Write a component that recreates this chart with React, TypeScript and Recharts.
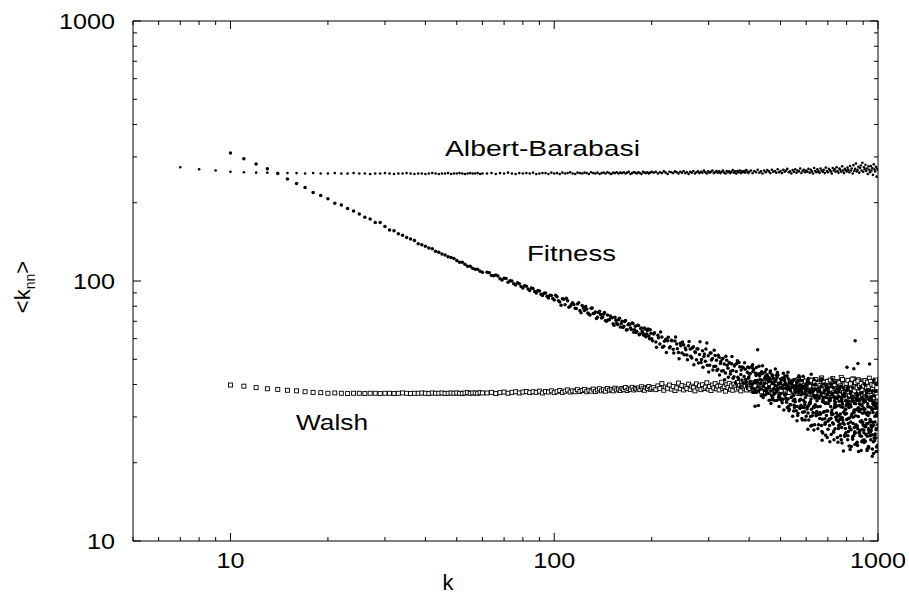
import React from 'react';
import { ScatterChart, Scatter, XAxis, YAxis, ReferenceLine } from 'recharts';

const W = 909;
const H = 599;
const PLOT_LEFT = 133;
const PLOT_TOP = 21;
const PLOT_RIGHT = 878;
const PLOT_BOTTOM = 541;
const FONT = "'Liberation Sans', Arial, Helvetica, sans-serif";

// ---- ticks ----
const xTicks = [5, 6, 7, 8, 9, 10, 20, 30, 40, 50, 60, 70, 80, 90, 100, 200, 300, 400, 500, 600, 700, 800, 900, 1000];
const yTicks = [10, 20, 30, 40, 50, 60, 70, 80, 90, 100, 200, 300, 400, 500, 600, 700, 800, 900, 1000];
const majorTicks = [10, 100, 1000];
const tickLabels: Record<number, string> = { 10: '10', 100: '100', 1000: '1000' };

// ---- degree grids (k) ----
const kLowAB = [7, 8, 9, 10, 11, 12, 13, 14, 15, 16, 17, 18, 19, 20, 21, 22, 23, 24, 25, 26, 27, 28, 29, 30, 31, 32, 33, 34, 35, 36, 37, 38, 39, 40, 41, 42, 43, 44, 45, 46, 47, 48, 49, 50, 51, 52, 53, 54, 55, 56, 57, 58, 59, 60];
const kLow = [10, 11, 12, 13, 14, 15, 16, 17, 18, 19, 20, 21, 22, 23, 24, 25, 26, 27, 28, 29, 30, 31, 32, 33, 34, 35, 36, 37, 38, 39, 40, 41, 42, 43, 44, 45, 46, 47, 48, 49, 50, 51, 52, 53, 54, 55, 56, 57, 58, 59, 60];
const kMid = [62, 64, 66, 68, 70, 72, 74, 76, 78, 80, 82, 84, 86, 88, 90, 92, 94, 96, 98, 100, 102, 104, 106, 108, 110, 112, 114, 116, 118, 120, 122, 124, 126, 128, 130, 132, 134, 136, 138, 140, 142, 144, 146, 148, 150, 152, 154, 156, 158, 160, 162, 164, 166, 168, 170, 172, 174, 176, 178, 180, 182, 184, 186, 188, 190, 192, 194, 196, 198, 200];
const kMidB = [63, 65, 67, 69, 71, 73, 75, 77, 79, 81, 83, 85, 87, 89, 91, 93, 95, 97, 99, 101, 103, 105, 107, 109, 111, 113, 115, 117, 119, 121, 123, 125, 127, 129, 131, 133, 135, 137, 139, 141, 143, 145, 147, 149, 151, 153, 155, 157, 159, 161, 163, 165, 167, 169, 171, 173, 175, 177, 179, 181, 183, 185, 187, 189, 191, 193, 195, 197, 199];
const kHigh = [203, 206, 209, 212, 215, 218, 221, 224, 227, 230, 233, 236, 239, 242, 245, 248, 251, 254, 257, 260, 263, 266, 269, 272, 275, 278, 281, 284, 287, 290, 293, 296, 299, 302, 305, 308, 311, 314, 317, 320, 323, 326, 329, 332, 335, 338, 341, 344, 347, 350, 353, 356, 359, 362, 365, 368, 371, 374, 377, 380, 383, 386, 389, 392, 395, 398];
const kHighB = [201, 204, 207, 210, 213, 216, 219, 222, 225, 228, 231, 234, 237, 240, 243, 246, 249, 252, 255, 258, 261, 264, 267, 270, 273, 276, 279, 282, 285, 288, 291, 294, 297, 300, 303, 306, 309, 312, 315, 318, 321, 324, 327, 330, 333, 336, 339, 342, 345, 348, 351, 354, 357, 360, 363, 366, 369, 372, 375, 378, 381, 384, 387, 390, 393, 396, 399];
const kTop = [400, 405, 410, 415, 420, 425, 430, 435, 440, 445, 450, 455, 460, 465, 470, 475, 480, 485, 490, 495, 500, 505, 510, 515, 520, 525, 530, 535, 540, 545, 550, 555, 560, 565, 570, 575, 580, 585, 590, 595, 600, 605, 610, 615, 620, 625, 630, 635, 640, 645, 650, 655, 660, 665, 670, 675, 680, 685, 690, 695, 700, 705, 710, 715, 720, 725, 730, 735, 740, 745, 750, 755, 760, 765, 770, 775, 780, 785, 790, 795, 800, 805, 810, 815, 820, 825, 830, 835, 840, 845, 850, 855, 860, 865, 870, 875, 880, 885, 890, 895, 900, 905, 910, 915, 920, 925, 930, 935, 940, 945, 950, 955, 960, 965, 970, 975, 980, 985, 990, 995, 1000];
const kTopB = [402, 407, 412, 417, 422, 427, 432, 437, 442, 447, 452, 457, 462, 467, 472, 477, 482, 487, 492, 497, 502, 507, 512, 517, 522, 527, 532, 537, 542, 547, 552, 557, 562, 567, 572, 577, 582, 587, 592, 597, 602, 607, 612, 617, 622, 627, 632, 637, 642, 647, 652, 657, 662, 667, 672, 677, 682, 687, 692, 697, 702, 707, 712, 717, 722, 727, 732, 737, 742, 747, 752, 757, 762, 767, 772, 777, 782, 787, 792, 797, 802, 807, 812, 817, 822, 827, 832, 837, 842, 847, 852, 857, 862, 867, 872, 877, 882, 887, 892, 897, 902, 907, 912, 917, 922, 927, 932, 937, 942, 947, 952, 957, 962, 967, 972, 977, 982, 987, 992, 997];
const kTopC = [401, 406, 411, 416, 421, 426, 431, 436, 441, 446, 451, 456, 461, 466, 471, 476, 481, 486, 491, 496, 501, 506, 511, 516, 521, 526, 531, 536, 541, 546, 551, 556, 561, 566, 571, 576, 581, 586, 591, 596, 601, 606, 611, 616, 621, 626, 631, 636, 641, 646, 651, 656, 661, 666, 671, 676, 681, 686, 691, 696, 701, 706, 711, 716, 721, 726, 731, 736, 741, 746, 751, 756, 761, 766, 771, 776, 781, 786, 791, 796, 801, 806, 811, 816, 821, 826, 831, 836, 841, 846, 851, 856, 861, 866, 871, 876, 881, 886, 891, 896, 901, 906, 911, 916, 921, 926, 931, 936, 941, 946, 951, 956, 961, 966, 971, 976, 981, 986, 991, 996];
const kTopD = [404, 409, 414, 419, 424, 429, 434, 439, 444, 449, 454, 459, 464, 469, 474, 479, 484, 489, 494, 499, 504, 509, 514, 519, 524, 529, 534, 539, 544, 549, 554, 559, 564, 569, 574, 579, 584, 589, 594, 599, 604, 609, 614, 619, 624, 629, 634, 639, 644, 649, 654, 659, 664, 669, 674, 679, 684, 689, 694, 699, 704, 709, 714, 719, 724, 729, 734, 739, 744, 749, 754, 759, 764, 769, 774, 779, 784, 789, 794, 799, 804, 809, 814, 819, 824, 829, 834, 839, 844, 849, 854, 859, 864, 869, 874, 879, 884, 889, 894, 899, 904, 909, 914, 919, 924, 929, 934, 939, 944, 949, 954, 959, 964, 969, 974, 979, 984, 989, 994, 999];
const kTopE = [403, 408, 413, 418, 423, 428, 433, 438, 443, 448, 453, 458, 463, 468, 473, 478, 483, 488, 493, 498, 503, 508, 513, 518, 523, 528, 533, 538, 543, 548, 553, 558, 563, 568, 573, 578, 583, 588, 593, 598, 603, 608, 613, 618, 623, 628, 633, 638, 643, 648, 653, 658, 663, 668, 673, 678, 683, 688, 693, 698, 703, 708, 713, 718, 723, 728, 733, 738, 743, 748, 753, 758, 763, 768, 773, 778, 783, 788, 793, 798, 803, 808, 813, 818, 823, 828, 833, 838, 843, 848, 853, 858, 863, 868, 873, 878, 883, 888, 893, 898, 903, 908, 913, 918, 923, 928, 933, 938, 943, 948, 953, 958, 963, 968, 973, 978, 983, 988, 993, 998];

// ---- Albert-Barabasi <k_nn> ----
const abLow = [274, 269, 266, 263, 262, 261, 261, 260, 260, 260,
  259, 260, 259, 259, 260, 259, 259, 260, 259, 259,
  258, 259, 259, 260, 259, 258, 259, 259, 260, 259,
  258, 259, 259, 258, 259, 260, 259, 258, 259, 259,
  260, 258, 259, 259, 260, 259, 258, 259, 260, 259,
  259, 260, 258, 259];
const abMid = [259, 260, 258, 260, 259, 261, 259, 258, 260, 259,
  260, 259, 261, 258, 259, 260, 260, 258, 261, 259,
  260, 258, 261, 259, 260, 262, 259, 258, 261, 260,
  259, 261, 260, 258, 262, 260, 259, 261, 258, 260,
  261, 259, 262, 260, 258, 261, 260, 262, 259, 261,
  260, 262, 259, 261, 263, 258, 260, 262, 261, 259,
  262, 260, 258, 263, 261, 260, 262, 259, 261, 263];
const abHigh = [261, 263, 259, 262, 260, 264, 261, 258, 263, 262,
  260, 264, 262, 259, 263, 261, 265, 260, 262, 258,
  263, 261, 265, 259, 262, 264, 260, 263, 261, 266,
  262, 259, 264, 261, 263, 266, 260, 262, 265, 261,
  264, 260, 263, 266, 261, 259, 265, 262, 264, 260,
  263, 267, 261, 264, 259, 265, 262, 266, 260, 264,
  262, 265, 261, 267, 263, 260];
const abTop = [263, 266, 260, 265, 262, 268, 261, 264, 259, 266,
  262, 267, 264, 260, 268, 263, 265, 261, 269, 262,
  265, 260, 268, 263, 266, 270, 262, 264, 259, 267,
  263, 269, 261, 266, 264, 271, 260, 265, 268, 262,
  266, 263, 270, 261, 268, 264, 259, 272, 265, 262,
  269, 264, 261, 271, 266, 263, 268, 260, 273, 265,
  262, 270, 267, 264, 259, 272, 266, 269, 263, 274,
  265, 261, 271, 268, 263, 276, 266, 260, 270, 267,
  264, 273, 268, 262, 277, 266, 271, 259, 279, 265,
  270, 283, 264, 268, 275, 261, 272, 278, 266, 285,
  263, 274, 269, 280, 265, 271, 258, 276, 268, 262,
  277, 266, 272, 256, 281, 269, 264, 275, 252, 270,
  268];

// ---- Fitness <k_nn> ----
const fitLow = [311, 295, 282, 270, 259, 247, 237, 229, 219, 213,
  207, 199, 196, 190, 186, 181, 176, 173, 168, 168,
  162, 157, 156, 152, 150, 147, 145, 143, 139, 138,
  136, 134, 133, 130, 129, 127, 126, 124, 123, 122,
  120, 118, 118, 116, 114, 114, 112, 111, 111, 109,
  108];
const fitMid = [108, 105, 105.5, 102, 102.5, 99, 100, 96.5, 97.5, 94,
  95.5, 92, 93.5, 90, 91.5, 88, 90, 86, 88, 84.5,
  87, 83, 85.5, 81, 84, 80, 82.5, 78.5, 81.5, 77,
  80.5, 77, 78, 74.5, 78.5, 75, 76, 72.5, 76.5, 72,
  74.5, 70.5, 74, 71, 72.5, 68.5, 72.5, 69, 71, 66.5,
  70, 67, 70.5, 65, 68.5, 66, 69, 63.5, 67, 64,
  67.5, 62.5, 66, 63, 66, 61, 64.5, 61.5, 65, 60];
const fitMidB = [107.5, 104.8, 104.6, 101.0, 102.2, 100.3, 97.6, 98.4, 95.2, 95.9,
  93.1, 94.0, 91.2, 91.9, 89.0, 89.8, 87.4, 88.2, 85.6, 88.2,
  84.0, 80.6, 85.0, 85.9, 79.3, 81.2, 81.3, 78.3, 82.4, 75.5,
  78.8, 79.7, 75.3, 74.0, 78.7, 75.2, 71.7, 75.7, 74.4, 72.5,
  75.6, 70.0, 71.0, 73.4, 72.2, 67.6, 70.7, 68.1, 71.9, 68.7,
  66.3, 69.9, 64.8, 67.9, 68.1, 65.1, 68.7, 65.0, 63.4, 67.6,
  62.1, 65.7, 64.1, 61.8, 65.3, 62.5, 65.3, 60.0, 62.9];
const fitHigh = [62.5, 58.3, 61.8, 57.2, 60.9, 56.1, 59.7, 58.9, 55.4, 59.2,
  54.6, 58.8, 57.3, 53.1, 57.6, 52.8, 56.9, 55.2, 51.9, 56.4,
  54.8, 50.6, 55.9, 53.5, 49.8, 54.7, 52.1, 48.6, 53.9, 51.2,
  49.1, 57.8, 51.6, 47.4, 52.8, 50.3, 46.9, 51.7, 49.6, 45.8,
  50.9, 48.2, 45.1, 50.4, 47.9, 44.3, 49.6, 46.2, 48.5, 43.9,
  48.1, 45.3, 42.8, 47.6, 44.9, 49.3, 42.1, 46.8, 43.7, 41.6,
  46.5, 42.9, 45.8, 40.8, 44.6, 42.3];
const fitHighB = [58.9, 63.2, 55.6, 60.5, 63.6, 55.6, 58.7, 53.1, 60.7, 55.9,
  58.9, 52.8, 60.9, 54.9, 50.2, 56.4, 58.3, 52.0, 54.4, 49.8,
  58.5, 51.3, 55.2, 47.6, 53.1, 54.9, 48.4, 58.4, 49.9, 46.6,
  52.4, 54.7, 47.4, 44.7, 52.9, 49.7, 45.5, 54.1, 47.0, 45.3,
  51.8, 43.5, 49.0, 50.1, 45.2, 41.7, 51.4, 47.4, 42.6, 48.4,
  45.0, 51.2, 42.3, 47.1, 40.6, 48.2, 42.6, 48.6, 39.1, 45.5,
  46.7, 40.4, 48.5, 41.8, 39.5, 46.7, 42.7];
const fitTop = [46.4, 40.6, 47.6, 38.4, 43.3, 54.4, 44.0, 40.4, 47.2, 37.9,
  36.5, 41.9, 38.9, 45.1, 34.9, 42.3, 36.9, 43.4, 38.5, 32.9,
  42.0, 35.2, 44.2, 36.4, 38.5, 32.6, 41.9, 33.5, 38.9, 30.2,
  41.8, 34.3, 37.4, 30.4, 43.2, 32.7, 38.2, 31.3, 38.9, 34.2,
  30.2, 41.3, 33.1, 37.5, 27.7, 38.5, 31.2, 41.7, 33.4, 35.6,
  35.8, 28.0, 38.0, 30.8, 41.8, 26.0, 34.2, 29.5, 38.3, 31.6,
  28.9, 38.9, 24.1, 35.5, 30.6, 36.9, 26.5, 33.5, 40.9, 29.2,
  35.5, 27.1, 38.6, 30.8, 24.5, 34.2, 28.5, 36.7, 25.6, 32.1,
  29.3, 38.9, 26.4, 34.4, 22.5, 32.8, 35.8, 24.6, 31.3, 27.3,
  58.9, 28.0, 36.3, 23.3, 32.5, 34.6, 25.4, 39.0, 29.0, 24.3,
  34.0, 26.1, 40.0, 27.8, 36.2, 22.3, 31.3, 26.7, 34.8, 29.3,
  24.5, 32.5, 21.2, 33.9, 27.9, 36.1, 25.8, 30.4, 23.0, 32.5,
  31.0];
const fitTopB = [40.3, 46.9, 37.3, 33.0, 37.3, 33.2, 40.2, 44.8, 35.6, 42.3,
  45.7, 37.0, 42.0, 33.8, 43.2, 38.6, 45.9, 34.7, 40.0, 35.9,
  36.9, 42.4, 31.9, 40.4, 34.2, 44.6, 32.1, 37.8, 41.3, 34.6,
  32.6, 38.6, 29.0, 41.5, 34.6, 39.0, 29.6, 43.0, 32.6, 35.6,
  38.3, 26.9, 40.4, 33.7, 43.8, 30.3, 36.0, 28.0, 38.4, 31.5,
  27.0, 37.7, 31.2, 39.5, 24.4, 34.6, 40.2, 28.5, 35.6, 25.0,
  37.7, 29.4, 34.6, 25.7, 41.9, 30.8, 35.9, 27.0, 32.8, 38.5,
  24.0, 36.0, 29.3, 39.4, 27.3, 33.6, 22.2, 37.0, 30.7, 34.7,
  46.6, 25.4, 33.6, 27.5, 37.6, 23.1, 34.5, 29.9, 46.0, 26.0,
  27.5, 35.4, 24.0, 48.2, 31.6, 26.0, 37.0, 22.3, 33.2, 28.6,
  32.5, 23.9, 34.5, 27.5, 38.1, 25.3, 30.4, 22.8, 48.0, 26.3,
  35.3, 27.4, 37.8, 24.1, 41.6, 25.5, 33.2, 22.1, 31.0, 40.0];
const fitTopC = [43.8, 38.8, 44.9, 40.8, 46.5, 39.1, 43.1, 36.2, 44.2, 40.3,
  38.4, 43.0, 34.8, 41.0, 43.6, 36.6, 39.6, 37.4, 43.5, 35.1,
  40.7, 34.0, 38.8, 43.1, 35.0, 39.0, 31.7, 40.4, 35.8, 39.4,
  33.3, 37.5, 40.7, 31.0, 38.2, 35.1, 41.4, 32.7, 36.8, 29.2,
  39.7, 32.8, 29.2, 37.1, 35.2, 27.9, 37.7, 32.7, 40.1, 30.5,
  32.8, 38.8, 29.6, 36.2, 26.4, 35.0, 37.2, 28.1, 34.0, 39.2,
  26.9, 34.7, 37.2, 29.6, 31.9, 38.9, 24.5, 35.4, 29.9, 33.1,
  37.4, 27.8, 33.2, 25.4, 34.7, 29.8, 38.7, 28.1, 31.9, 26.1,
  33.7, 24.5, 35.5, 29.7, 36.9, 26.8, 30.8, 38.9, 25.4, 33.8,
  26.0, 32.0, 37.0, 27.0, 22.1, 33.7, 28.8, 35.4, 24.1, 31.0,
  34.7, 24.5, 32.1, 29.3, 37.1, 22.6, 32.8, 27.0, 35.4, 25.4,
  27.8, 34.6, 22.6, 31.2, 33.3, 24.3, 37.6, 26.8, 30.4, 23.3];
const fitTopD = [41.1, 46.4, 38.1, 44.2, 41.0, 47.0, 38.4, 41.5, 36.4, 43.0,
  43.6, 39.0, 44.4, 36.2, 40.4, 34.7, 41.6, 44.5, 36.5, 39.0,
  34.6, 39.7, 41.4, 35.5, 43.2, 32.9, 38.4, 35.6, 41.0, 31.6,
  38.4, 31.7, 39.1, 42.6, 32.3, 36.5, 29.2, 39.4, 33.5, 40.1,
  32.2, 42.2, 33.8, 30.1, 37.6, 39.9, 26.7, 35.5, 30.3, 36.3,
  37.5, 30.7, 41.7, 27.8, 34.4, 31.3, 37.8, 25.5, 38.9, 31.6,
  35.4, 27.8, 32.9, 40.0, 28.5, 26.2, 34.6, 37.4, 31.1, 25.0,
  28.8, 38.0, 30.0, 35.6, 23.8, 32.7, 36.3, 25.3, 34.7, 30.9,
  38.0, 28.3, 23.2, 33.2, 28.7, 36.2, 25.2, 34.5, 31.9, 23.5,
  33.7, 23.7, 34.8, 30.1, 38.4, 26.6, 32.1, 25.3, 37.2, 28.0,
  26.7, 31.2, 24.2, 35.9, 28.3, 33.7, 23.1, 37.8, 28.7, 32.6,
  35.9, 25.6, 32.2, 21.7, 34.2, 28.7, 24.9, 32.7, 22.1, 31.3];
const fitTopE = [44.1, 40.0, 45.7, 41.3, 43.9, 37.9, 41.7, 44.0, 39.3, 44.7,
  37.6, 41.0, 42.4, 37.8, 35.6, 41.0, 38.0, 42.5, 35.7, 40.5,
  38.8, 35.1, 41.8, 36.7, 39.9, 35.2, 38.8, 33.4, 39.9, 36.3,
  35.1, 39.7, 32.9, 37.2, 39.8, 33.3, 37.4, 34.8, 31.4, 37.7,
  36.4, 31.1, 37.6, 34.3, 32.1, 38.5, 32.8, 36.1, 30.9, 34.6,
  30.8, 35.4, 32.9, 36.9, 29.4, 35.6, 31.5, 33.8, 30.4, 36.8,
  33.8, 29.4, 35.5, 31.2, 36.6, 28.2, 32.6, 34.1, 29.9, 35.3,
  30.4, 34.5, 28.1, 32.8, 35.2, 29.2, 31.3, 36.0, 27.1, 33.1,
  34.5, 29.5, 32.6, 27.2, 33.4, 30.3, 34.8, 28.3, 31.3, 26.3,
  30.3, 34.8, 27.7, 32.5, 26.1, 31.5, 33.4, 28.7, 26.8, 35.0,
  32.1, 27.6, 34.4, 25.7, 30.7, 28.3, 33.0, 26.1, 31.1, 29.0,
  26.6, 31.9, 28.6, 33.6, 24.9, 30.2, 32.3, 27.1, 33.9, 28.0];

// ---- Walsh <k_nn> ----
const walshLow = [39.8, 39.4, 38.9, 38.5, 38.3, 38.0, 37.8, 37.5, 37.3, 37.2,
  37.0, 37.1, 37.0, 36.9, 37.0, 37.0, 36.9, 37.0, 37.0, 36.9,
  37.0, 37.0, 36.9, 37.0, 37.1, 37.0, 36.9, 37.0, 37.0, 37.1,
  37.0, 36.9, 37.1, 37.0, 37.0, 37.1, 36.9, 37.0, 37.1, 37.0,
  37.1, 37.0, 36.9, 37.1, 37.2, 37.0, 37.1, 37.1, 37.0, 37.2,
  37.1];
const walshMid = [37.1, 37.3, 36.9, 37.2, 37.4, 37.0, 37.3, 37.5, 37.1, 37.4,
  37.6, 37.2, 37.5, 37.3, 37.7, 37.1, 37.6, 37.4, 37.8, 37.2,
  37.5, 37.9, 37.3, 37.7, 38.1, 37.4, 37.8, 37.5, 38.2, 37.6,
  37.9, 38.3, 37.5, 38.0, 37.7, 38.4, 37.6, 38.1, 38.5, 37.8,
  38.2, 37.7, 38.6, 38.0, 38.3, 37.8, 38.7, 38.1, 38.4, 37.9,
  38.6, 38.2, 38.9, 37.9, 38.5, 38.3, 39.0, 38.1, 38.6, 38.4,
  38.8, 38.2, 39.2, 38.5, 38.0, 38.9, 38.6, 39.3, 38.3, 38.7];
const walshHigh = [38.9, 38.2, 39.5, 38.6, 40.3, 38.0, 39.1, 38.7, 39.8, 38.4,
  39.3, 37.9, 38.8, 40.5, 38.5, 39.6, 38.1, 39.2, 38.6, 40.1,
  38.3, 39.4, 38.9, 37.8, 40.2, 38.7, 39.5, 38.2, 39.9, 38.6,
  39.1, 40.6, 38.4, 39.3, 37.9, 39.8, 38.8, 40.3, 38.5, 39.4,
  38.1, 39.7, 40.8, 38.6, 39.2, 37.7, 39.9, 38.9, 40.4, 38.3,
  39.5, 38.0, 40.1, 39.1, 38.4, 40.7, 38.8, 39.6, 37.8, 39.3,
  40.2, 38.7, 39.4, 38.1, 40.5, 38.9];
const walshTop = [39.4, 38.1, 40.6, 37.6, 39.8, 38.5, 41.2, 37.9, 39.1, 40.3,
  38.4, 40.9, 37.3, 39.6, 38.8, 41.5, 37.8, 39.2, 40.1, 38.0,
  39.7, 37.5, 40.8, 38.6, 41.9, 37.2, 39.4, 38.3, 40.5, 38.9,
  37.6, 41.3, 38.4, 39.9, 36.9, 40.7, 38.2, 42.1, 37.4, 39.5,
  40.2, 37.8, 39.1, 41.6, 36.7, 38.9, 40.4, 37.3, 41.8, 38.5,
  39.3, 36.6, 40.9, 38.1, 42.4, 37.5, 39.7, 36.4, 40.6, 38.8,
  37.1, 41.2, 38.6, 39.8, 36.3, 42.2, 38.0, 40.3, 37.4, 39.5,
  41.0, 36.8, 39.2, 37.9, 42.6, 38.4, 36.2, 40.5, 38.9, 37.3,
  39.9, 36.5, 41.4, 38.2, 37.0, 40.8, 35.9, 39.3, 42.0, 37.6,
  38.7, 35.8, 40.2, 37.4, 41.7, 36.6, 39.6, 38.0, 35.5, 40.9,
  37.8, 41.3, 36.1, 39.0, 35.6, 40.4, 38.3, 36.9, 42.3, 37.2,
  35.9, 39.8, 37.5, 41.1, 36.4, 38.6, 35.4, 40.0, 37.0, 39.3,
  36.8];
const walshTopB = [38.6, 40.1, 37.8, 39.5, 41.0, 38.3, 39.9, 37.5, 40.6, 38.9,
  39.7, 37.4, 40.4, 38.7, 39.2, 41.3, 37.9, 40.0, 38.5, 39.6,
  37.8, 40.7, 39.0, 38.1, 41.6, 38.9, 37.3, 40.2, 39.4, 38.0,
  40.5, 38.3, 37.1, 41.8, 39.1, 38.6, 40.9, 37.6, 39.8, 41.2,
  38.2, 40.0, 36.8, 39.4, 41.5, 37.7, 39.0, 40.7, 37.2, 38.8,
  40.3, 37.0, 39.6, 41.9, 38.1, 36.7, 40.8, 38.5, 37.4, 41.1,
  39.2, 36.9, 41.6, 38.3, 40.1, 37.1, 39.7, 36.5, 41.0, 38.6,
  37.7, 40.6, 36.4, 39.5, 38.0, 41.8, 37.2, 39.9, 36.8, 40.4,
  38.9, 41.5, 37.4, 36.2, 40.2, 38.4, 41.9, 36.9, 39.1, 37.8,
  40.7, 36.3, 38.8, 41.2, 37.5, 39.6, 35.7, 40.3, 38.1, 36.6,
  39.4, 37.0, 41.4, 35.9, 38.7, 40.8, 36.5, 39.2, 37.7, 41.1,
  36.2, 40.0, 38.4, 35.6, 39.7, 37.3, 41.6, 36.7, 38.9, 35.8];

type Pt = { k: number; v: number };
const pairs = (ks: number[], vs: number[]): Pt[] => {
  const out: Pt[] = [];
  const n = Math.min(ks.length, vs.length);
  for (let i = 0; i < n; i++) out.push({ k: ks[i], v: vs[i] });
  return out;
};

const abData = [...pairs(kLowAB, abLow), ...pairs(kMid, abMid), ...pairs(kHigh, abHigh), ...pairs(kTop, abTop)];
const fitData = [
  ...pairs(kLow, fitLow), ...pairs(kMid, fitMid), ...pairs(kMidB, fitMidB),
  ...pairs(kHigh, fitHigh), ...pairs(kHighB, fitHighB),
  ...pairs(kTop, fitTop), ...pairs(kTopB, fitTopB), ...pairs(kTopC, fitTopC),
  ...pairs(kTopD, fitTopD), ...pairs(kTopE, fitTopE),
];
const walshData = [...pairs(kLow, walshLow), ...pairs(kMid, walshMid), ...pairs(kHigh, walshHigh), ...pairs(kTop, walshTop), ...pairs(kTopB, walshTopB)];

const XTick = (props: any) => {
  const { x, y, payload } = props;
  const v = payload.value as number;
  const len = majorTicks.includes(v) ? 8 : 4;
  const label = tickLabels[v];
  return (
    <g>
      <line x1={x} y1={y} x2={x} y2={y - len} stroke="#000" strokeWidth={1} />
      <line x1={x} y1={PLOT_TOP} x2={x} y2={PLOT_TOP + len} stroke="#000" strokeWidth={1} />
      {label ? (
        <text x={x} y={y + 27} textAnchor="middle" fontSize={22} fontFamily={FONT} fill="#000"
          textLength={14 * label.length} lengthAdjust="spacingAndGlyphs">{label}</text>
      ) : null}
    </g>
  );
};

const YTick = (props: any) => {
  const { x, y, payload } = props;
  const v = payload.value as number;
  const len = majorTicks.includes(v) ? 8 : 4;
  const label = tickLabels[v];
  return (
    <g>
      <line x1={x} y1={y} x2={x + len} y2={y} stroke="#000" strokeWidth={1} />
      <line x1={PLOT_RIGHT - len} y1={y} x2={PLOT_RIGHT} y2={y} stroke="#000" strokeWidth={1} />
      {label ? (
        <text x={x - 18} y={y + 8} textAnchor="end" fontSize={22} fontFamily={FONT} fill="#000"
          textLength={14 * label.length} lengthAdjust="spacingAndGlyphs">{label}</text>
      ) : null}
    </g>
  );
};

const Dot = (r: number) => (props: any) => {
  const { cx, cy } = props;
  if (cx == null || cy == null) return <g />;
  return <circle cx={cx} cy={cy} r={r} fill="#000" />;
};

const Square = (props: any) => {
  const { cx, cy } = props;
  if (cx == null || cy == null) return <g />;
  return <rect x={cx - 2} y={cy - 2} width={4} height={4} fill="#fff" stroke="#000" strokeWidth={0.9} />;
};

export default function App() {
  return (
    <div style={{ position: 'absolute', left: 0, top: 0, width: W, height: H, background: '#fff' }}>
      <ScatterChart width={W} height={H} margin={{ top: PLOT_TOP, right: W - PLOT_RIGHT, bottom: 0, left: 0 }}>
        <XAxis dataKey="k" type="number" scale="log" domain={[5, 1000]} allowDataOverflow
          ticks={xTicks} interval={0} tickSize={0} tickMargin={0} tickLine={false}
          height={H - PLOT_BOTTOM} axisLine={{ stroke: '#000' }} tick={XTick} />
        <YAxis dataKey="v" type="number" scale="log" domain={[10, 1000]} allowDataOverflow
          ticks={yTicks} interval={0} tickSize={0} tickMargin={0} tickLine={false}
          width={PLOT_LEFT} axisLine={{ stroke: '#000' }} tick={YTick} />
        <ReferenceLine y={1000} stroke="#000" />
        <ReferenceLine x={1000} stroke="#000" />
        <Scatter name="Albert-Barabasi" data={abData} isAnimationActive={false} shape={Dot(1.3)} />
        <Scatter name="Walsh" data={walshData} isAnimationActive={false} shape={Square} />
        <Scatter name="Fitness" data={fitData} isAnimationActive={false} shape={Dot(1.75)} />
      </ScatterChart>
      <svg width={W} height={H} style={{ position: 'absolute', left: 0, top: 0, pointerEvents: 'none' }}>
        <g fontFamily={FONT} fontSize={22} fill="#000">
          <text x={445} y={156} textLength={195} lengthAdjust="spacingAndGlyphs">Albert-Barabasi</text>
          <text x={527} y={261} textLength={89} lengthAdjust="spacingAndGlyphs">Fitness</text>
          <text x={296} y={430} textLength={72} lengthAdjust="spacingAndGlyphs">Walsh</text>
          <text x={448} y={590} textAnchor="middle">k</text>
          <text transform="rotate(-90 30 287)" x={30} y={287} textAnchor="middle">
            {'<k'}<tspan fontSize={14} dy={5}>nn</tspan><tspan dy={-5}>{'>'}</tspan>
          </text>
        </g>
      </svg>
    </div>
  );
}
